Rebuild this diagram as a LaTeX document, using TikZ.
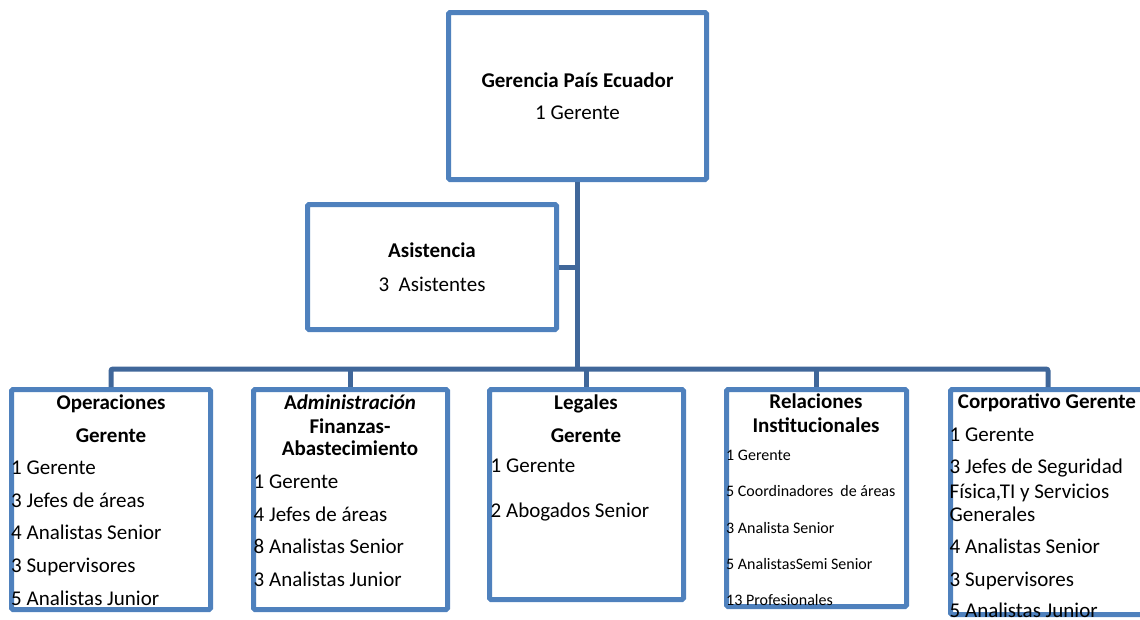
\documentclass[tikz,border=0pt]{standalone}
\usepackage{fontspec}
\setmainfont{Carlito}

\definecolor{boxblue}{RGB}{79,129,189}
\definecolor{lineblue}{RGB}{64,103,154}

\tikzset{
  unit/.style={draw=boxblue, line width=5pt, fill=white, inner sep=0pt, anchor=north west, rounded corners=1.5pt},
  link/.style={draw=lineblue, line width=5pt, rounded corners=2pt},
  ttl/.style={anchor=base, inner sep=0pt, font=\fontsize{21}{25}\selectfont\bfseries},
  mid/.style={anchor=base, inner sep=0pt, font=\fontsize{21}{25}\selectfont},
  item/.style={anchor=base west, inner sep=0pt, font=\fontsize{21}{25}\selectfont},
  small/.style={anchor=base west, inner sep=0pt, font=\fontsize{16}{19}\selectfont}
}

\begin{document}
\begin{tikzpicture}[x=1pt, y=-1pt]
    \useasboundingbox (0,0) rectangle (1140,619);

    % these are the boxes
    \node[unit, minimum width=258pt, minimum height=167pt] (gerencia) at (446,10) {};
    \node[unit, minimum width=249pt, minimum height=125pt] (asistencia) at (305,202) {};
    \node[unit, minimum width=199pt, minimum height=220pt] (operaciones) at (9,387) {};
    \node[unit, minimum width=194pt, minimum height=220pt] (admin) at (251,387) {};
    \node[unit, minimum width=194pt, minimum height=210pt] (legales) at (487,387) {};
    \node[unit, minimum width=180pt, minimum height=217pt] (relaciones) at (724,387) {};
    \node[unit, minimum width=195pt, minimum height=225pt] (corporativo) at (948,387) {};

    % these are the connectors
    \coordinate (bus) at (577.5,369);
    \draw[link] (gerencia.south) -- (gerencia.south |- bus);
    \draw[link] (asistencia.east) -- (asistencia.east -| gerencia.south);
    \draw[link] (operaciones.north) -- (operaciones.north |- bus) -- (corporativo.north |- bus) -- (corporativo.north);
    \draw[link] (admin.north |- bus) -- (admin.north);
    \draw[link] (legales.north |- bus) -- (legales.north);
    \draw[link] (relaciones.north |- bus) -- (relaciones.north);

    % top
    \node[ttl] (gerT) at (577.5,87) {Gerencia País Ecuador};
    \node[mid] (gerN) at (577.5,119) {1 Gerente};

    \node[ttl] (asiT) at (432,257) {Asistencia};
    \node[mid] (asiN) at (432,291) {3\ \ Asistentes};

    % operaciones
    \node[ttl] (opT) at (111,409) {Operaciones};
    \node[ttl] (opG) at (111,442) {Gerente};
    \node[item] (op1) at (11,474) {1 Gerente};
    \node[item] (op2) at (11,507) {3 Jefes de áreas};
    \node[item] (op3) at (11,539) {4 Analistas Senior};
    \node[item] (op4) at (11,572) {3 Supervisores};
    \node[item] (op5) at (11,605) {5 Analistas Junior};

    % administracion
    \node[ttl] (adT) at (350,409) {A\textit{dministración}};
    \node[ttl] (adF) at (350,433) {Finanzas-};
    \node[ttl] (adA) at (350,455) {Abastecimiento};
    \node[item] (ad1) at (253.5,488) {1 Gerente};
    \node[item] (ad2) at (253.5,521) {4 Jefes de áreas};
    \node[item] (ad3) at (253.5,553) {8 Analistas Senior};
    \node[item] (ad4) at (253.5,586) {3 Analistas Junior};

    % legales
    \node[ttl] (leT) at (586,409) {Legales};
    \node[ttl] (leG) at (586,442) {Gerente};
    \node[item] (le1) at (490.5,472) {1 Gerente};
    \node[item] (le2) at (490.5,517) {2 Abogados Senior};

    % relaciones
    \node[ttl] (reT) at (816,408) {Relaciones};
    \node[ttl] (reI) at (816,432) {Institucionales};
    \node[small] (re1) at (726,460) {1 Gerente};
    \node[small] (re2) at (726,496) {5 Coordinadores\ \ de áreas};
    \node[small] (re3) at (726,533) {3 Analista Senior};
    \node[small] (re4) at (726,569) {5 AnalistasSemi Senior};
    \node[small] (re5) at (726,605) {13 Profesionales};

    % corporativo
    \node[ttl] (coT) at (1047,408) {Corporativo Gerente};
    \node[item] (co1) at (949.5,441) {1 Gerente};
    \node[item] (co2) at (949.5,473) {3 Jefes de Seguridad};
    \node[item] (co3) at (949.5,498) {Física,TI y Servicios};
    \node[item] (co4) at (949.5,521) {Generales};
    \node[item] (co5) at (949.5,553) {4 Analistas Senior};
    \node[item] (co6) at (949.5,586) {3 Supervisores};
    \node[item] (co7) at (949.5,617) {5 Analistas Junior};

\end{tikzpicture}
\end{document}
